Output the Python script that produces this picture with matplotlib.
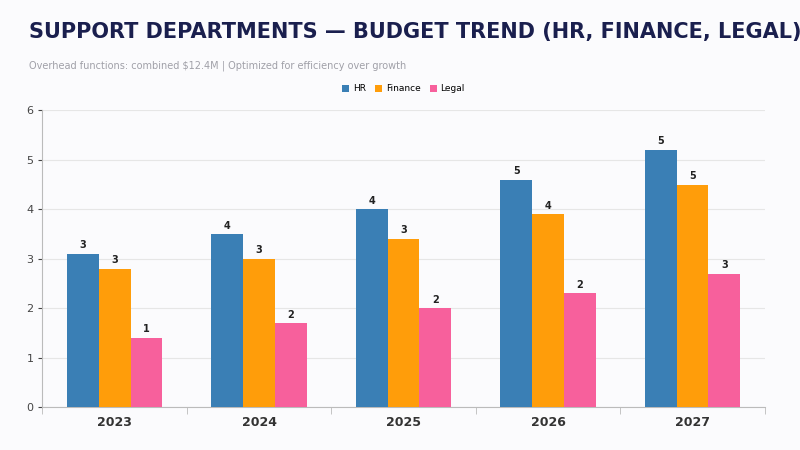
import numpy as np
import matplotlib
matplotlib.use("Agg")
import matplotlib.pyplot as plt

years = ["2023", "2024", "2025", "2026", "2027"]
hr = [3.1, 3.5, 4.0, 4.6, 5.2]
finance = [2.8, 3.0, 3.4, 3.9, 4.5]
legal = [1.4, 1.7, 2.0, 2.3, 2.7]
series = [("HR", hr, "#3a7fb5"), ("Finance", finance, "#ff9d0a"), ("Legal", legal, "#f7609c")]

fig = plt.figure(figsize=(8, 4.5), dpi=100)
fig.patch.set_facecolor("#fbfbfd")
ax = fig.add_axes([0.053, 0.095, 0.903, 0.66])
ax.set_facecolor("#fbfbfd")

x = np.arange(len(years))
w = 0.22
for i, (name, vals, col) in enumerate(series):
    pos = x + (i - 1) * w
    ax.bar(pos, vals, w, color=col, label=name, zorder=3)
    for p, v in zip(pos, vals):
        ax.text(p, v + 0.07, str(int(v + 0.5)), ha="center", va="bottom",
                fontsize=7, fontweight="bold", color="#222222")

ax.set_xlim(-0.5, len(years) - 0.5)
ax.set_ylim(0, 6)
ax.set_xticks(x)
ax.set_xticklabels(years, fontsize=9, fontweight="bold", color="#333333")
ax.set_xticks(np.arange(len(years) + 1) - 0.5, minor=True)
ax.tick_params(axis="x", which="major", length=0, pad=6)
ax.tick_params(axis="x", which="minor", length=5, color="#bbbbbb")
ax.tick_params(axis="y", labelsize=8, colors="#444444", length=3)
ax.grid(axis="y", color="#e6e6e6", linewidth=0.8, zorder=0)
for s in ["top", "right"]:
    ax.spines[s].set_visible(False)
for s in ["left", "bottom"]:
    ax.spines[s].set_color("#bbbbbb")

ax.legend(loc="lower center", bbox_to_anchor=(0.5, 1.03), ncol=3, frameon=False,
          fontsize=6.5, handlelength=0.8, handleheight=0.8, columnspacing=1.0,
          handletextpad=0.4)

fig.text(0.036, 0.915, "SUPPORT DEPARTMENTS — BUDGET TREND (HR, FINANCE, LEGAL)",
         fontsize=15, fontweight="bold", color="#1a1f4e")
fig.text(0.036, 0.848, "Overhead functions: combined $12.4M | Optimized for efficiency over growth",
         fontsize=7, color="#a0a0a8")

fig.savefig("out.png", dpi=100, facecolor=fig.get_facecolor())
